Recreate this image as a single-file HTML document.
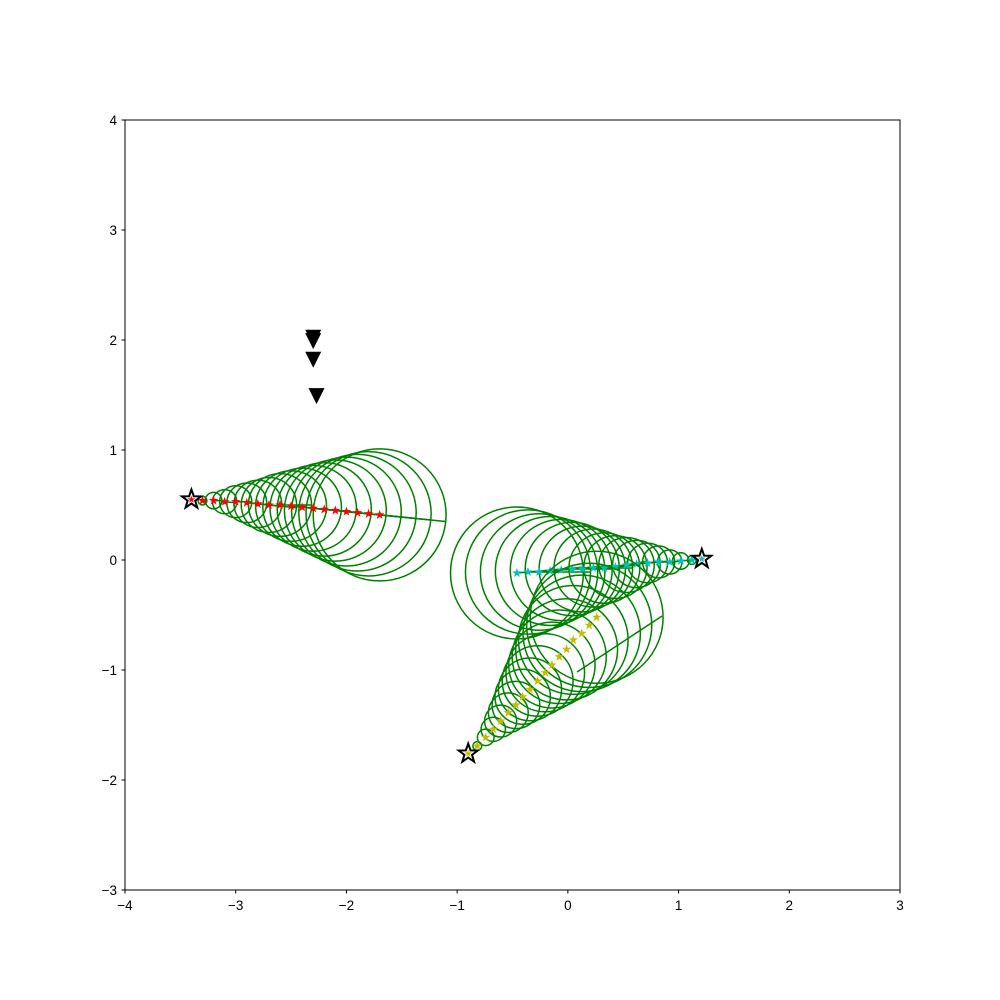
<!DOCTYPE html>
<html><head><meta charset="utf-8"><style>body{margin:0;background:#fff}svg{display:block}text{font-family:"Liberation Sans","DejaVu Sans",sans-serif;font-size:13.5px;fill:#000}</style></head>
<body>
<svg id="chart" width="1000" height="1000" viewBox="0 0 1000 1000" xmlns="http://www.w3.org/2000/svg">
<rect x="0" y="0" width="1000" height="1000" fill="#fff"/>
<g id="plot"></g>
<rect x="125" y="120" width="775" height="770" fill="none" stroke="#000" stroke-width="1"/>
<g id="axes"></g>
</svg>
<script>
const xTicks=[-4,-3,-2,-1,0,1,2,3];
const yTicks=[-3,-2,-1,0,1,2,3,4];
const radii=[0.04,0.075,0.11,0.145,0.18,0.215,0.25,0.285,0.32,0.355,0.39,0.425,0.46,0.495,0.53,0.565,0.6];
const redStart=[-3.4,0.55];
const redX=[-3.3,-3.2,-3.1,-3.0,-2.9,-2.8,-2.7,-2.6,-2.5,-2.4,-2.3,-2.2,-2.1,-2.0,-1.9,-1.8,-1.7];
const redY=[0.54,0.54,0.53,0.53,0.52,0.51,0.50,0.50,0.49,0.48,0.47,0.46,0.45,0.44,0.43,0.42,0.41];
const cyanStart=[1.21,0.01];
const cyanX=[1.12,1.02,0.92,0.82,0.72,0.62,0.53,0.43,0.33,0.23,0.13,0.04,-0.06,-0.16,-0.26,-0.36,-0.46];
const cyanY=[0,-0.009,-0.018,-0.018,-0.027,-0.036,-0.045,-0.064,-0.073,-0.073,-0.082,-0.082,-0.091,-0.1,-0.109,-0.109,-0.118];
const yelStart=[-0.9,-1.76];
const yelX=[-0.818,-0.742,-0.674,-0.607,-0.538,-0.469,-0.408,-0.342,-0.273,-0.204,-0.144,-0.078,-0.011,0.049,0.125,0.193,0.26];
const yelY=[-1.691,-1.612,-1.539,-1.464,-1.388,-1.318,-1.243,-1.176,-1.1,-1.025,-0.955,-0.88,-0.812,-0.727,-0.667,-0.594,-0.521];
const yelExtraLine=[0.083,-1.018,0.851,-0.509];
const triX=[-2.3,-2.3,-2.3,-2.27];
const triY=[2.02,1.99,1.82,1.49];

const NS="http://www.w3.org/2000/svg";
const sx=v=>125+(v+4)*775/7;
const sy=v=>890-(v+3)*770/7;
const kx=775/7, ky=770/7;
const plot=document.getElementById('plot'), axes=document.getElementById('axes');
function mk(t,a,p){const e=document.createElementNS(NS,t);for(const k in a)e.setAttribute(k,a[k]);p.appendChild(e);return e;}
function starPts(cx,cy,R){const r=R*0.4;let p=[];for(let i=0;i<10;i++){const a=-Math.PI/2+i*Math.PI/5;const rr=i%2?r:R;p.push((cx+rr*Math.cos(a)).toFixed(2)+','+(cy+rr*Math.sin(a)).toFixed(2));}return p.join(' ');}

function agent(name,start,xs,ys,color,headMode){
  const g=mk('g',{},plot);
  
  
  let px=start[0],py=start[1];
  for(let i=0;i<xs.length;i++){
    const cx=sx(xs[i]),cy=sy(ys[i]),r=radii[i];
    const c=mk('ellipse',{cx:cx,cy:cy,rx:r*kx,ry:r*ky,fill:'none',stroke:'#008000','stroke-width':1.5},g);
    
    
    if(headMode!==0){
      const dx=(xs[i]-px)*headMode,dy=(ys[i]-py)*headMode,L=Math.hypot(dx,dy)||1;
      const l=mk('line',{x1:cx,y1:cy,x2:sx(xs[i]+r*dx/L),y2:sy(ys[i]+r*dy/L),stroke:'#008000','stroke-width':1.5},g);
      
      
    }
    px=xs[i];py=ys[i];
  }
  for(let i=0;i<xs.length;i++){
    const s=mk('polygon',{points:starPts(sx(xs[i]),sy(ys[i]),5),fill:color},g);
    
    
  }
  const st=mk('polygon',{points:starPts(sx(start[0]),sy(start[1]),10),fill:'none',stroke:'#000','stroke-width':2},g);
  
  
  mk('polygon',{points:starPts(sx(start[0]),sy(start[1]),4),fill:color},g);
  return g;
}
agent('red',redStart,redX,redY,'#ff0000',1);
agent('cyan',cyanStart,cyanX,cyanY,'#00bfbf',-1);
const yg=agent('yellow',yelStart,yelX,yelY,'#bfbf00',0);
const yl=mk('line',{x1:sx(yelExtraLine[0]),y1:sy(yelExtraLine[1]),x2:sx(yelExtraLine[2]),y2:sy(yelExtraLine[3]),stroke:'#008000','stroke-width':1.5},yg);



for(let i=0;i<triX.length;i++){
  const x=sx(triX[i]),y=sy(triY[i]);
  const t=mk('polygon',{points:`${x-8},${y-8} ${x+8},${y-8} ${x},${y+8}`,fill:'#000'},plot);
  
  
}

const fmt=v=>v<0?'\u2212'+(-v):String(v);
xTicks.forEach(v=>{
  const x=sx(v);
  mk('line',{x1:x,y1:890,x2:x,y2:893.5,stroke:'#000'},axes);
  const t=mk('text',{x:x,y:910,'text-anchor':'middle'},axes);
  t.textContent=fmt(v);
  
  
});
yTicks.forEach(v=>{
  const y=sy(v);
  mk('line',{x1:125,y1:y,x2:121.5,y2:y,stroke:'#000'},axes);
  const t=mk('text',{x:117,y:y+5,'text-anchor':'end'},axes);
  t.textContent=fmt(v);
  
  
});
</script>
</body></html>
